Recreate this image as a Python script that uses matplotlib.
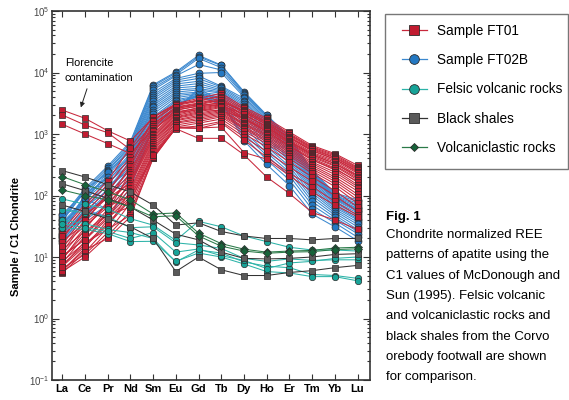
import matplotlib.pyplot as plt
from matplotlib.lines import Line2D
from matplotlib.patches import Rectangle
from matplotlib.ticker import LogLocator, NullFormatter
import numpy as np

plt.rcParams['font.family'] = ['Liberation Sans', 'DejaVu Sans']
plt.rcParams['mathtext.fontset'] = 'custom'
plt.rcParams['mathtext.rm'] = 'Liberation Sans'
plt.rcParams['mathtext.it'] = 'Liberation Sans:italic'
plt.rcParams['mathtext.bf'] = 'Liberation Sans:bold'

ree = ['La', 'Ce', 'Pr', 'Nd', 'Sm', 'Eu', 'Gd', 'Tb', 'Dy', 'Ho', 'Er', 'Tm', 'Yb', 'Lu']

# sample / C1 chondrite, one row per analysis (La ... Lu)
ft01 = [
    [2450, 1800, 1130, 770, 1850, 3000, 3500, 3300, 2400, 1500, 880, 540, 390, 250],
    [2040, 1400, 1050, 560, 1450, 2600, 3000, 2900, 2100, 1300, 760, 460, 330, 210],
    [1440, 1000, 700, 480, 1200, 2200, 2500, 2400, 1800, 1100, 640, 380, 270, 170],
    [27, 72, 175, 600, 1900, 3100, 3800, 4600, 2750, 1800, 1080, 650, 480, 310],
    [24, 65, 150, 420, 1700, 2900, 3400, 4300, 2600, 1700, 1020, 620, 460, 290],
    [12, 38, 110, 380, 1600, 3000, 3600, 4000, 2500, 1600, 980, 600, 440, 280],
    [20, 55, 120, 330, 1450, 2750, 3200, 3800, 2350, 1550, 950, 580, 420, 270],
    [9, 28, 80, 300, 1350, 2600, 3000, 3500, 2200, 1450, 900, 560, 410, 260],
    [16, 46, 100, 260, 1250, 2700, 3100, 3600, 2300, 1400, 860, 530, 390, 240],
    [7, 18, 55, 240, 1150, 2500, 2800, 3300, 2000, 1350, 820, 500, 370, 230],
    [14, 40, 95, 220, 1100, 2400, 2900, 3200, 2100, 1300, 780, 480, 350, 215],
    [18, 35, 70, 200, 1000, 2300, 2600, 3000, 1900, 1250, 750, 460, 330, 200],
    [6, 14, 40, 180, 950, 2200, 2700, 3100, 1800, 1200, 720, 440, 310, 190],
    [11, 30, 75, 170, 900, 2100, 2500, 2900, 1750, 1150, 700, 420, 300, 180],
    [22, 50, 90, 160, 850, 2000, 2400, 2800, 1700, 1100, 660, 400, 280, 165],
    [8, 22, 60, 150, 800, 1900, 2300, 2700, 1600, 1050, 620, 380, 260, 150],
    [13, 26, 50, 130, 750, 1850, 2200, 2500, 1500, 1000, 590, 350, 240, 140],
    [5.5, 12, 30, 120, 700, 1800, 2100, 2400, 1450, 950, 560, 330, 220, 130],
    [10, 20, 45, 110, 650, 1700, 2000, 2300, 1400, 900, 530, 310, 200, 118],
    [15, 32, 65, 100, 600, 1650, 1900, 2200, 1300, 850, 500, 290, 185, 105],
    [7.5, 16, 35, 90, 560, 1550, 1800, 2100, 1250, 800, 470, 270, 170, 95],
    [6.5, 11, 25, 75, 520, 1500, 1700, 2000, 1200, 750, 440, 250, 155, 85],
    [9.5, 24, 48, 65, 480, 1400, 1600, 1900, 1100, 700, 400, 230, 140, 75],
    [5.8, 10, 22, 55, 440, 1300, 1500, 1750, 1000, 620, 350, 200, 120, 65],
    [8.5, 17, 28, 48, 410, 1250, 1350, 1600, 900, 520, 290, 170, 100, 55],
    [6, 13, 20, 45, 400, 1250, 1230, 1520, 800, 420, 230, 140, 80, 48],
    [7, 15, 33, 85, 430, 1220, 850, 850, 460, 200, 108, 53, 40, 28],
    [10.5, 19, 42, 95, 460, 1300, 1250, 1300, 500, 390, 210, 115, 70, 45],
]

ft02b = [
    [45, 130, 300, 750, 6300, 10200, 19000, 13200, 4900, 2040, 900, 260, 110, 85],
    [38, 120, 280, 700, 6000, 9800, 18000, 13000, 4700, 2000, 880, 250, 105, 80],
    [50, 110, 260, 650, 5600, 9200, 17000, 12000, 4500, 1900, 840, 240, 100, 75],
    [30, 100, 250, 620, 5200, 8800, 13500, 11000, 4300, 1800, 800, 230, 98, 70],
    [42, 125, 230, 580, 4700, 8000, 9700, 10000, 4000, 1700, 760, 220, 95, 66],
    [25, 90, 210, 550, 4300, 7500, 8800, 6000, 3800, 1600, 720, 210, 92, 62],
    [35, 80, 240, 520, 4000, 7000, 8000, 5800, 3500, 1500, 680, 200, 90, 60],
    [22, 105, 190, 480, 3700, 6500, 7200, 5500, 3300, 1400, 640, 190, 88, 57],
    [48, 70, 170, 450, 3400, 6000, 6600, 5200, 3100, 1300, 600, 180, 85, 55],
    [28, 95, 200, 420, 3100, 5600, 6000, 5000, 2900, 1200, 560, 170, 80, 52],
    [20, 60, 150, 400, 2900, 5200, 5500, 4800, 2700, 1100, 520, 160, 76, 48],
    [33, 85, 180, 380, 2700, 4800, 5200, 4600, 2500, 1000, 480, 150, 72, 45],
    [18, 50, 130, 350, 2500, 4500, 4800, 4300, 2300, 900, 440, 140, 68, 42],
    [40, 115, 160, 330, 2300, 4200, 4600, 4000, 2100, 850, 400, 130, 64, 40],
    [24, 65, 120, 300, 2100, 3900, 4400, 3800, 1900, 780, 370, 120, 60, 37],
    [17, 45, 100, 280, 1900, 3600, 4200, 3500, 1700, 700, 340, 110, 56, 34],
    [30, 75, 140, 260, 1800, 3400, 4100, 3300, 1500, 620, 300, 100, 52, 31],
    [21, 55, 90, 230, 1650, 3200, 4000, 3100, 1300, 560, 270, 90, 48, 28],
    [26, 40, 70, 200, 1500, 3000, 4200, 3000, 1100, 500, 240, 80, 44, 26],
    [19, 48, 110, 170, 1400, 2800, 4500, 2900, 1000, 450, 210, 70, 40, 24],
    [36, 88, 60, 150, 1300, 2600, 5000, 3200, 900, 380, 180, 60, 36, 21],
    [23, 58, 45, 130, 1250, 2450, 5500, 3400, 780, 320, 145, 50, 31, 18.5],
]

felsic = [
    [88, 72, 60, 42, 33, 18.6, 38, 31, 22, 17.8, 14.4, 13, 13, 12.5],
    [59, 52, 45, 30, 31, 17, 15.7, 13.8, 9.5, 8.5, 9.3, 8.8, 9, 9],
    [40, 35, 28, 25, 20, 8.3, 13, 11.6, 8.3, 7.1, 6.7, 5.2, 5, 4.5],
    [30, 28, 24, 17.8, 18, 8.5, 11.6, 10, 7.7, 5.8, 5.5, 4.8, 4.8, 4.1],
    [35, 30, 26, 20, 25, 12, 13.5, 10.5, 8.8, 6.5, 8, 8.5, 9.5, 10],
]

shales = [
    [254, 200, 150, 114, 70, 33, 36, 26, 22, 20, 20, 19, 20, 20],
    [155, 120, 90, 65, 40, 23.5, 19, 12, 9.5, 9.3, 9.5, 10, 11, 11.3],
    [70, 55, 42, 31, 20, 5.8, 10, 6.2, 5, 5, 5.6, 6, 6.7, 7.3],
]

volcaniclastic = [
    [203, 150, 115, 85, 50, 52, 24.5, 16.5, 13.4, 12, 12.5, 12.8, 14, 14.4],
    [123, 100, 85, 65, 45, 47, 22, 15, 12.5, 11.5, 12, 12.2, 13.2, 13.6],
]

red, red_line = '#c11b30', '#c8283c'
blue, blue_line = '#2478c2', '#3b88cf'
teal, teal_line = '#17a398', '#2cb3a8'
grey, grey_line = '#5a5a5a', '#333333'
green, green_line = '#17633a', '#2a7a48'
edge = '#2b2b2b'

groups = [
    (ft02b, 'o', blue, blue_line, 5.0),
    (ft01, 's', red, red_line, 4.5),
    (felsic, 'o', teal, teal_line, 4.6),
    (shales, 's', grey, grey_line, 4.6),
    (volcaniclastic, 'D', green, green_line, 3.6),
]

fig = plt.figure(figsize=(5.69, 4.0), dpi=100)
ax = fig.add_axes([52 / 569, 20 / 400, 318 / 569, 369 / 400])
x = np.arange(len(ree))

for rows, mk, fc, lc, ms in groups:
    for row in rows:
        ax.plot(x, row, '-', marker=mk, color=lc, lw=0.75, ms=ms,
                mfc=fc, mec=edge, mew=0.5)

ax.set_yscale('log')
ax.set_ylim(0.1, 1e5)
ax.set_xlim(-0.45, 13.55)
ax.set_xticks(x)
ax.set_xticklabels(ree, fontweight='bold', fontsize=8)
ax.yaxis.set_major_locator(LogLocator(base=10, numticks=10))
ax.yaxis.set_minor_locator(LogLocator(base=10, subs=np.arange(2, 10), numticks=20))
ax.yaxis.set_minor_formatter(NullFormatter())
ax.tick_params(axis='both', which='both', direction='in', top=True, right=True,
               color='#333333', width=0.8)
ax.tick_params(axis='y', which='major', length=5, labelsize=7, labelcolor='#444444', pad=2)
ax.tick_params(axis='y', which='minor', length=2.5)
ax.tick_params(axis='x', length=4, pad=3)
for s in ax.spines.values():
    s.set_linewidth(1.2)
    s.set_color('#333333')

ax.set_ylabel('Sample / C1 Chondrite', fontweight='bold', fontsize=8)
ax.yaxis.set_label_coords(-0.096, 0.39)

ax.text(0.12, 10 ** 4.155, 'Florencite', fontsize=7.8, va='center', ha='left')
ax.text(0.12, 10 ** 3.91, 'contamination', fontsize=7.8, va='center', ha='left')
ax.annotate('', xy=(0.78, 2450), xytext=(1.13, 6000),
            arrowprops=dict(arrowstyle='-|>', lw=0.7, color='#222222', mutation_scale=7))

# legend
fig.add_artist(Rectangle((385 / 569, 1 - 169 / 400), 183 / 569, 155 / 400,
                         transform=fig.transFigure, fill=False, ec='#777777', lw=1))
handles = [
    Line2D([], [], color=red_line, lw=0.9, marker='s', ms=7, mfc=red, mec=edge, mew=0.6),
    Line2D([], [], color=blue_line, lw=0.9, marker='o', ms=7, mfc=blue, mec=edge, mew=0.6),
    Line2D([], [], color=teal_line, lw=0.9, marker='o', ms=7, mfc=teal, mec=edge, mew=0.6),
    Line2D([], [], color=grey_line, lw=0.9, marker='s', ms=7, mfc=grey, mec=edge, mew=0.6),
    Line2D([], [], color=green_line, lw=0.9, marker='D', ms=4.5, mfc=green, mec=edge, mew=0.6),
]
labels = ['Sample FT01', 'Sample FT02B', 'Felsic volcanic rocks', 'Black shales',
          'Volcaniclastic rocks']
fig.legend(handles, labels, loc='upper left', bbox_to_anchor=(402 / 569, 0.94),
           frameon=False, fontsize=9.8, handlelength=1.8, handletextpad=0.75,
           labelspacing=1.12, borderpad=0, borderaxespad=0)

# caption
fig.text(386 / 569, 1 - 217 / 400, 'Fig. 1', fontsize=9.5, fontweight='bold', va='center')
caption = ['Chondrite normalized REE',
           'patterns of apatite using the',
           'C1 values of McDonough and',
           'Sun (1995). Felsic volcanic',
           'and volcaniclastic rocks and',
           'black shales from the Corvo',
           'orebody footwall are shown',
           'for comparison.']
for i, line in enumerate(caption):
    fig.text(386 / 569, 1 - (235 + 20.3 * i) / 400, line, fontsize=9.5, va='center')

plt.savefig('out.png', dpi=100)
